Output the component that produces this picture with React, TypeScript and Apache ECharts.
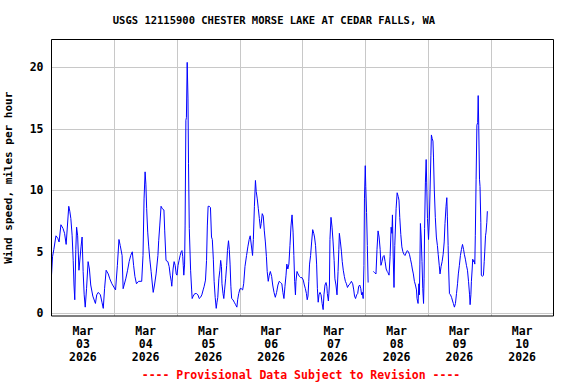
import React, { useEffect, useRef } from "react";
import * as echarts from "echarts";

// hours after Mar 03 2026 00:00, wind speed (mph)
const day1: [number, number | null][] = [
  [0, 3.1], [0.4, 4.6], [0.9, 5.2], [1.7, 6.3], [2.4, 6.1], [2.9, 5.8], [3.6, 7.2], [4.4, 6.9],
  [5.0, 6.5], [5.6, 5.6], [6.6, 8.7], [7.0, 8.3], [7.4, 7.7], [7.9, 6.3], [8.3, 4.3], [8.6, 2.3],
  [8.9, 1.1], [9.3, 5.2], [9.6, 7.0], [10.0, 6.3], [10.5, 3.5], [11.3, 5.4], [11.7, 6.2], [12.1, 3.4],
  [12.5, 1.5], [12.9, 0.5], [13.4, 2.0], [14.0, 4.2], [14.5, 3.6], [15.0, 2.3], [15.8, 1.4], [16.8, 0.8],
  [17.3, 1.5], [17.9, 1.7], [18.7, 1.5], [19.3, 0.9], [19.8, 0.4], [20.3, 2.0], [20.9, 3.5], [21.7, 3.2],
  [22.3, 2.8], [23.1, 2.4],
];
const day2: [number, number | null][] = [
  [24.5, 1.9], [25.2, 3.9], [25.8, 6.0], [26.3, 5.5], [27.0, 4.7], [27.4, 2.0], [28.4, 2.8], [29.1, 3.5],
  [29.7, 4.2], [30.3, 4.7], [30.9, 5.0], [31.4, 3.9], [31.9, 3.0], [32.5, 2.4], [33.3, 2.6], [34.5, 2.6],
  [35.0, 4.7], [35.4, 9.3], [35.8, 11.5], [36.1, 10.5], [36.4, 8.5], [36.8, 6.6], [37.2, 5.4], [37.6, 4.4],
  [38.1, 3.4], [38.6, 2.3], [38.9, 1.7], [39.4, 2.3], [40.0, 3.2], [40.7, 4.7], [41.0, 5.9], [41.4, 7.1],
  [41.9, 8.7], [42.4, 8.5], [43.0, 8.4], [43.3, 6.7], [43.8, 4.3], [44.5, 4.2], [45.0, 3.8], [45.4, 3.1],
  [45.8, 2.6], [46.0, 2.2], [46.5, 3.6], [46.9, 4.2], [47.3, 3.9], [47.7, 3.2],
];
const day3: [number, number | null][] = [
  [48.0, 3.1], [48.4, 3.9], [48.8, 4.3], [49.2, 4.7], [49.6, 5.0], [49.9, 5.1], [50.2, 4.6], [50.4, 3.9],
  [50.6, 3.1], [50.9, 4.0], [51.1, 7.1], [51.4, 15.7], [51.6, 15.9], [51.9, 20.4], [52.2, 17.5], [52.4, 12.2],
  [52.7, 6.9], [53.2, 3.5], [53.6, 1.9], [53.8, 1.2], [54.2, 1.4], [54.8, 1.6], [55.5, 1.6], [56.0, 1.5],
  [56.5, 1.2], [57.0, 1.3], [57.5, 1.5], [58.0, 1.9], [58.4, 2.2], [58.9, 2.7], [59.3, 4.3], [59.6, 7.1],
  [59.9, 8.7], [60.3, 8.7], [60.8, 8.6], [61.2, 6.2], [61.5, 6.0], [61.9, 4.4], [62.2, 2.6], [62.6, 1.3],
  [63.0, 0.4], [63.3, 0.9], [63.6, 1.3], [64.0, 2.8], [64.4, 3.5], [64.7, 4.3], [65.0, 3.8], [65.2, 2.4],
  [65.6, 1.6], [65.9, 1.2], [66.2, 1.9], [66.6, 2.8], [67.0, 3.9], [67.3, 5.1], [67.7, 5.9], [68.0, 5.2],
  [68.3, 4.0], [68.6, 2.2], [68.9, 1.2], [69.4, 1.1], [69.9, 0.9], [70.4, 0.7], [70.9, 0.5], [71.2, 1.1],
  [71.6, 1.6],
];
const day4: [number, number | null][] = [
  [72.1, 2.0], [72.6, 2.0], [73.1, 1.9], [73.5, 2.4], [74.0, 3.8], [74.6, 4.7], [75.1, 5.4], [75.6, 6.0],
  [76.0, 6.3], [76.9, 4.7], [77.2, 6.0], [77.6, 8.7], [78.0, 10.8], [78.3, 9.9], [78.7, 9.3], [79.1, 8.5],
  [79.5, 7.7], [79.9, 6.9], [80.2, 7.3], [80.6, 8.1], [81.0, 7.9], [81.4, 6.7], [81.8, 5.8], [82.2, 4.6],
  [82.5, 3.4], [82.9, 2.6], [83.3, 3.1], [83.7, 3.4], [84.2, 3.0], [84.6, 2.3], [85.1, 1.7], [85.6, 1.3],
  [86.1, 1.7], [86.6, 2.3], [87.1, 2.6], [87.6, 2.5], [88.1, 2.4], [88.5, 1.7], [88.9, 1.2], [89.3, 2.2],
  [89.7, 3.1], [90.0, 4.0], [90.4, 3.6], [90.8, 4.0], [91.2, 5.5], [91.6, 7.1], [92.0, 8.0], [92.4, 6.6],
  [92.7, 4.7], [93.0, 2.6], [93.3, 1.5], [93.5, 2.6], [93.9, 3.4], [94.3, 3.2], [94.8, 3.0], [95.3, 2.9],
];
const day5: [number, number | null][] = [
  [95.8, 2.9], [96.3, 2.7], [96.7, 2.3], [97.1, 2.0], [97.5, 1.6], [97.8, 1.1], [98.1, 1.4], [98.4, 2.6],
  [98.7, 4.0], [99.1, 4.7], [99.5, 5.8], [99.9, 6.8], [100.3, 6.5], [100.6, 6.2], [101.0, 5.5], [101.4, 4.0],
  [101.7, 2.0], [102.0, 0.9], [102.3, 1.5], [102.7, 1.7], [103.1, 1.5], [103.5, 0.8], [103.9, 0.3], [104.2, 1.5],
  [104.6, 2.3], [105.0, 2.5], [105.3, 2.2], [105.5, 1.6], [105.9, 1.0], [106.3, 2.3], [106.5, 6.0], [106.9, 7.8],
  [107.3, 7.0], [107.7, 5.8], [108.1, 4.3], [108.4, 2.8], [108.8, 2.3], [109.2, 1.5], [109.6, 3.4], [109.9, 5.2],
  [110.1, 6.5], [110.5, 5.8], [110.9, 5.0], [111.2, 4.2], [111.6, 3.5], [112.0, 3.0], [112.4, 2.6], [112.8, 2.4],
  [113.2, 2.1], [113.7, 2.3], [114.2, 2.4], [114.7, 2.6], [115.2, 2.4], [115.6, 1.9], [115.9, 1.4], [116.3, 1.2],
  [116.7, 1.5], [117.1, 1.6], [117.5, 2.2], [117.9, 2.3], [118.3, 2.0], [118.6, 1.5], [118.9, 1.7], [119.2, 1.2],
];
const day6: [number, number | null][] = [
  [119.5, 3.9], [119.7, 9.3], [120.0, 12.0], [120.2, 10.3], [120.5, 8.2], [120.8, 5.5], [121.1, 2.5],
  [122.0, null],
  [123.1, 3.4], [123.6, 3.3], [124.1, 3.2], [124.5, 5.2], [124.9, 6.7], [125.3, 6.2], [125.7, 5.2], [126.0, 3.9],
  [126.4, 4.2], [126.8, 4.6], [127.2, 4.7], [127.6, 4.2], [128.0, 3.6], [128.4, 3.4], [128.7, 3.3], [129.1, 3.1],
  [129.5, 4.6], [129.9, 7.0], [130.2, 6.5], [130.4, 8.0], [130.7, 4.5], [131.0, 2.1], [131.3, 5.5], [131.8, 8.5],
  [132.2, 9.8], [132.6, 9.5], [132.9, 9.2], [133.2, 7.8], [133.6, 6.4], [134.0, 5.4], [134.4, 5.0], [134.8, 4.8],
  [135.2, 4.7], [135.6, 4.9], [136.1, 5.1], [136.5, 5.0], [136.9, 4.8], [137.3, 4.4], [137.7, 4.0], [138.0, 3.6],
  [138.4, 3.2], [138.8, 2.6], [139.2, 2.3], [139.6, 1.9], [139.8, 1.2], [140.2, 0.8], [140.5, 2.4], [140.7, 1.5],
  [140.9, 4.0], [141.1, 7.3], [141.4, 6.2], [141.7, 4.2], [142.0, 2.0], [142.3, 0.8], [142.5, 2.8],
];
const day7: [number, number | null][] = [
  [142.7, 6.9], [143.0, 10.6], [143.3, 12.5], [143.5, 10.6], [143.8, 7.7], [144.2, 6.0], [144.5, 7.5], [144.8, 10.1],
  [145.1, 12.8], [145.3, 14.5], [145.6, 14.2], [145.9, 14.0], [146.1, 12.7], [146.4, 10.1], [146.8, 7.8], [147.2, 6.2],
  [147.6, 5.5], [147.9, 4.8], [148.3, 3.9], [148.6, 3.2], [149.0, 3.8], [149.4, 4.2], [149.8, 4.8], [150.2, 5.8],
  [150.5, 7.3], [150.9, 8.7], [151.2, 9.4], [151.4, 7.9], [151.7, 5.5], [151.9, 3.6], [152.2, 1.6], [152.6, 1.5],
  [153.0, 1.3], [153.4, 1.0], [153.7, 0.8], [154.1, 0.5], [154.5, 0.8], [154.9, 1.6], [155.3, 2.4], [155.6, 3.2],
  [156.0, 3.9], [156.4, 4.7], [156.8, 5.2], [157.2, 5.6], [157.6, 5.2], [157.9, 4.8], [158.3, 4.4], [158.7, 3.9],
  [159.1, 3.5], [159.5, 2.6], [159.9, 1.5], [160.1, 0.7], [160.4, 1.5], [160.6, 2.6], [160.9, 3.6], [161.1, 4.4],
  [161.4, 4.2], [161.6, 4.3], [161.9, 4.0], [162.1, 6.3], [162.4, 10.9], [162.7, 15.3], [163.0, 15.5], [163.2, 17.7],
  [163.4, 15.3], [163.7, 10.9], [163.9, 10.3], [164.2, 7.4], [164.4, 3.1], [164.8, 3.0], [165.2, 3.1], [165.5, 4.2],
  [165.7, 5.0], [166.0, 6.3], [166.2, 6.6], [166.5, 7.4], [166.7, 8.3],
];

const yTicks = [0, 5, 10, 15, 20];
const dayLabels = ["Mar\n03\n2026", "Mar\n04\n2026", "Mar\n05\n2026", "Mar\n06\n2026", "Mar\n07\n2026", "Mar\n08\n2026", "Mar\n09\n2026", "Mar\n10\n2026"];
const titleText = "USGS 12115900 CHESTER MORSE LAKE AT CEDAR FALLS, WA";
const yName = "Wind speed, miles per hour";
const footerText = "---- Provisional Data Subject to Revision ----";

const FONT = "'DejaVu Sans Mono', 'Liberation Mono', monospace";

export default function App() {
  const ref = useRef<HTMLDivElement>(null);
  useEffect(() => {
    if (!ref.current) return;
    const chart = echarts.init(ref.current, null, { renderer: "svg" });
    const data = [...day1, ...day2, ...day3, ...day4, ...day5, ...day6, ...day7];
    const L = 51.5, T = 39.5, R = 553.5, B = 316;
    chart.setOption({
      animation: false,
      backgroundColor: "#ffffff",
      grid: { left: L, top: T, width: R - L, height: B - T, containLabel: false, outerBoundsMode: "none" },
      xAxis: [
        {
          type: "value", min: 0, max: 192, interval: 24,
          axisLine: { show: false }, axisTick: { show: false }, axisLabel: { show: false },
          splitLine: { show: true, lineStyle: { color: "#c8c8c8", width: 1 } },
        },
        {
          type: "value", min: 0, max: 192, interval: 12, position: "bottom",
          axisLine: { show: false }, axisTick: { show: false },
          splitLine: { show: false },
          axisLabel: {
            show: true, margin: 8, lineHeight: 13,
            fontFamily: FONT, fontWeight: "bold", fontSize: 11.5, color: "#000",
            formatter: (v: number) => (v % 24 === 12 ? dayLabels[(v - 12) / 24] ?? "" : ""),
          },
        },
      ],
      yAxis: {
        type: "value", min: -0.22, max: 22.26,
        name: yName, nameLocation: "middle", nameGap: 38,
        nameTextStyle: { fontFamily: FONT, fontWeight: "bold", fontSize: 11, color: "#000" },
        axisLine: { show: false },
        axisTick: { show: false, customValues: yTicks },
        axisLabel: {
          customValues: yTicks, margin: 8,
          fontFamily: FONT, fontWeight: "bold", fontSize: 11.5, color: "#000",
        },
        splitLine: { show: true, lineStyle: { color: "#c8c8c8", width: 1 } },
      },
      series: [
        {
          type: "line", xAxisIndex: 0, data, showSymbol: false, symbol: "none",
          connectNulls: false,
          lineStyle: { color: "#0000ff", width: 1 }, z: 5,
        },
      ],
      graphic: [
        {
          type: "rect", z: 100, silent: true,
          shape: { x: L, y: T, width: R - L, height: B - T },
          style: { fill: "none", stroke: "#000", lineWidth: 1 },
        },
        {
          type: "text", x: 274, y: 20, z: 100,
          style: {
            text: titleText, fontFamily: FONT, fontWeight: "bold", fontSize: 10.5,
            fill: "#000", align: "center", verticalAlign: "middle",
          },
        },
        {
          type: "text", x: 301, y: 375, z: 100,
          style: {
            text: footerText, fontFamily: FONT, fontWeight: "bold", fontSize: 11.5,
            fill: "#ff0000", align: "center", verticalAlign: "middle",
          },
        },
      ],
    });
    return () => chart.dispose();
  }, []);
  return <div ref={ref} style={{ width: 576, height: 384, position: "absolute", left: 0, top: 0 }} />;
}
